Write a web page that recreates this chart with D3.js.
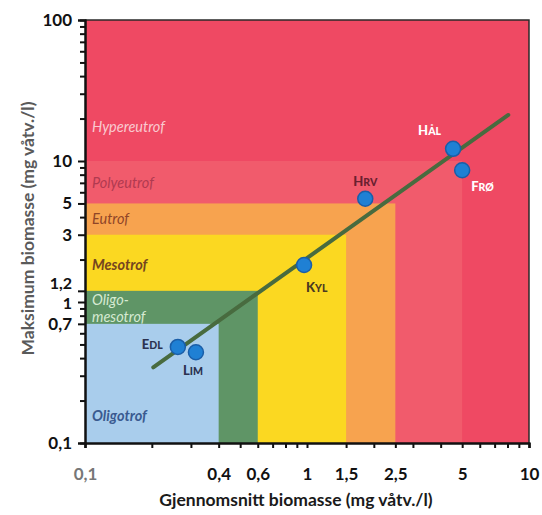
<!DOCTYPE html>
<html>
<head>
<meta charset="utf-8">
<script src="https://cdn.jsdelivr.net/npm/d3@7"></script>
<style>
  body { margin: 0; background: #fff; }
  svg { display: block; font-family: Lato, "Open Sans", sans-serif; }
</style>
</head>
<body>
<div id="chart"></div>
<script>
// trophic zones: upper limits (mean biomass on x, max biomass on y)
const zoneNames = ["Hypereutrof", "Polyeutrof", "Eutrof", "Mesotrof", "Oligo-mesotrof", "Oligotrof"];
const zoneMaxX = [10, 5, 2.5, 1.5, 0.6, 0.4];
const zoneMaxY = [100, 10, 5, 3, 1.2, 0.7];
const zoneColors = ["#ef4963", "#f15b6c", "#f7a34f", "#fbd821", "#5f9566", "#a9cdec"];
const zoneTextColors = ["#f9c9d0", "#b03a50", "#8f4528", "#74461f", "#d6ead2", "#3a5a90"];

// lakes
const lakeNames = ["EDL", "LIM", "KYL", "HRV", "HÅL", "FRØ"];
const lakeMean = [0.262, 0.316, 0.97, 1.83, 4.55, 5.0];
const lakeMax = [0.48, 0.44, 1.83, 5.4, 12.2, 8.6];

// fitted line
const fitX = [0.203, 8.07];
const fitY = [0.344, 21.2];

// tick labels
const xTickValues = [0.1, 0.4, 0.6, 1, 1.5, 2.5, 5, 10];
const yTickValues = [0.1, 0.7, 1, 1.2, 3, 5, 10, 100];

const W = 542, H = 515;
const svg = d3.select("#chart").append("svg").attr("width", W).attr("height", H);

const x = d3.scaleLog().domain([0.1, 10]).range([85, 529]);
const y = d3.scaleLog().domain([0.1, 100]).range([443, 20]);
const fmt = d => String(d).replace(".", ",");

// zones, drawn from the biggest down
svg.selectAll(".zone")
    .data(zoneNames)
    .enter().append("rect")
    .attr("class", "zone")
    .attr("x", x(0.1))
    .attr("y", (d, i) => y(zoneMaxY[i]))
    .attr("width", (d, i) => x(zoneMaxX[i]) - x(0.1))
    .attr("height", (d, i) => y(0.1) - y(zoneMaxY[i]))
    .attr("fill", (d, i) => zoneColors[i]);

// zone labels
const zoneLabelY = [132, 188, 224, 270, 305, 421];
zoneNames.forEach((name, i) => {
    const t = svg.append("text")
        .attr("x", x(0.1) + 7)
        .attr("y", zoneLabelY[i])
        .attr("fill", zoneTextColors[i])
        .attr("font-size", 14.5)
        .attr("font-style", "italic")
        .attr("font-weight", i === 3 || i === 5 ? 700 : 400);
    if (name === "Oligo-mesotrof") {
        t.append("tspan").text("Oligo-");
        t.append("tspan").attr("x", x(0.1) + 7).attr("dy", 17).text("mesotrof");
    } else {
        t.text(name);
    }
});

// frame top/right
svg.append("path")
    .attr("d", `M${x(0.1)},${y(100)}H${x(10)}V${y(0.1)}`)
    .attr("fill", "none")
    .attr("stroke", "#2a2a2a")
    .attr("stroke-width", 1.5);

// fitted line
svg.append("line")
    .attr("x1", x(fitX[0])).attr("y1", y(fitY[0]))
    .attr("x2", x(fitX[1])).attr("y2", y(fitY[1]))
    .attr("stroke", "#486b3f")
    .attr("stroke-width", 4)
    .attr("stroke-linecap", "round");

// lake points
svg.selectAll(".lake")
    .data(lakeNames)
    .enter().append("circle")
    .attr("class", "lake")
    .attr("cx", (d, i) => x(lakeMean[i]))
    .attr("cy", (d, i) => y(lakeMax[i]))
    .attr("r", 7.5)
    .attr("fill", "#1f80d4")
    .attr("stroke", "#1a5ea8")
    .attr("stroke-width", 1.5);

// lake labels in small caps
const labelOffset = [[-36, 2], [-13, 23], [2, 27], [-12, -13], [-35, -14], [9, 21]];
const labelColor = ["#2b3250", "#2b3250", "#4a3a22", "#6a2030", "#ffffff", "#ffffff"];
lakeNames.forEach((name, i) => {
    const t = svg.append("text")
        .attr("x", x(lakeMean[i]) + labelOffset[i][0])
        .attr("y", y(lakeMax[i]) + labelOffset[i][1])
        .attr("fill", labelColor[i])
        .attr("font-weight", 900);
    t.append("tspan").attr("font-size", 13).text(name[0]);
    t.append("tspan").attr("font-size", 10.5).text(name.slice(1));
});

// x axis: minor ticks, then labelled ticks
const xMinor = x.ticks().filter(v => !xTickValues.includes(v));
const xAxisMinor = svg.append("g")
    .attr("transform", `translate(0,${y(0.1)})`)
    .call(d3.axisBottom(x).tickValues(xMinor).tickSize(5).tickFormat(""));
const xAxis = svg.append("g")
    .attr("transform", `translate(0,${y(0.1)})`)
    .call(d3.axisBottom(x).tickValues(xTickValues).tickSize(5).tickPadding(20).tickFormat(fmt));

// y axis
const yMinor = y.ticks().filter(v => !yTickValues.includes(v));
const yAxisMinor = svg.append("g")
    .attr("transform", `translate(${x(0.1)},0)`)
    .call(d3.axisLeft(y).tickValues(yMinor).tickSize(5).tickFormat(""));
const yAxis = svg.append("g")
    .attr("transform", `translate(${x(0.1)},0)`)
    .call(d3.axisLeft(y).tickValues(yTickValues).tickSize(7).tickPadding(6).tickFormat(fmt));

[xAxisMinor, xAxis, yAxisMinor, yAxis].forEach(g => {
    g.select(".domain").attr("stroke", "#111").attr("stroke-width", 2);
    g.selectAll(".tick line").attr("stroke", "#111").attr("stroke-width", 2);
    g.selectAll(".tick text")
        .attr("font-family", "Lato, sans-serif")
        .attr("font-size", 17)
        .attr("font-weight", 700)
        .attr("fill", "#111");
});
xAxis.selectAll(".tick text").filter(d => d === 0.1).attr("fill", "#777");
// 1,2 and 1 sit close together: shrink a little and nudge them apart
yAxis.selectAll(".tick text").filter(d => d === 1.2 || d === 1).attr("font-size", 16);
yAxis.selectAll(".tick text").filter(d => d === 1.2).attr("dy", -2);
yAxis.selectAll(".tick text").filter(d => d === 1).attr("dy", 6);

// axis titles
svg.append("text")
    .attr("x", 296)
    .attr("y", 506)
    .attr("text-anchor", "middle")
    .attr("font-size", 17.5)
    .attr("font-weight", 700)
    .attr("fill", "#1a1a1a")
    .text("Gjennomsnitt biomasse (mg våtv./l)");

svg.append("text")
    .attr("transform", `translate(34,${(y(0.1) + y(100)) / 2 - 3}) rotate(-90)`)
    .attr("text-anchor", "middle")
    .attr("font-size", 17.5)
    .attr("font-weight", 700)
    .attr("fill", "#5a5a5a")
    .text("Maksimum biomasse (mg våtv./l)");
</script>
</body>
</html>
